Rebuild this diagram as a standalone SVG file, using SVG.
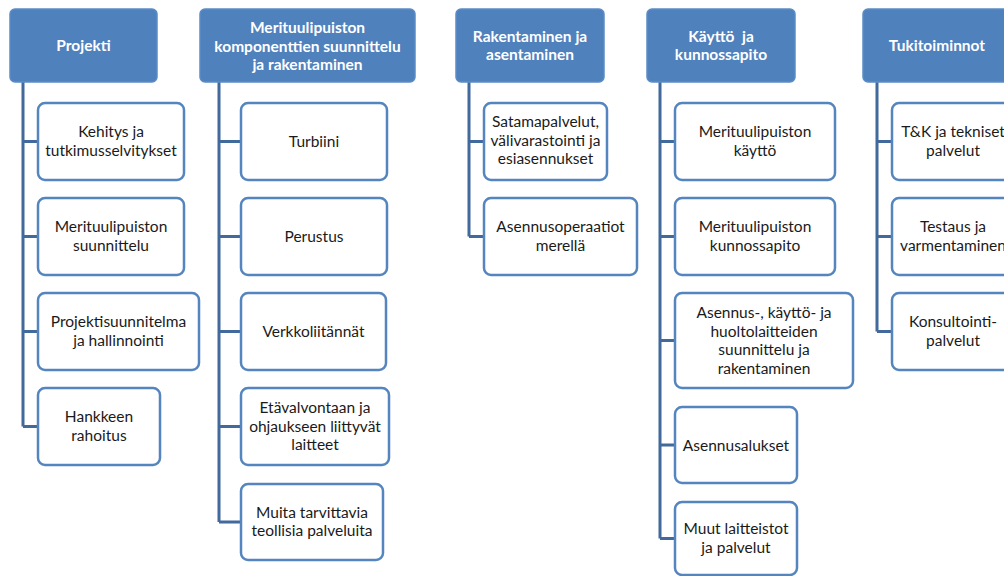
<svg xmlns="http://www.w3.org/2000/svg" width="1004" height="576" viewBox="0 0 1004 576">
<style>
.hd{fill:#4F81BD;stroke:#5B8CC6;stroke-width:1.5}
.bx{fill:#fff;stroke:#5585BF;stroke-width:2.5}
.ht{font-family:Lato,"Liberation Sans",sans-serif;font-size:15.5px;font-weight:bold;fill:#fff;text-anchor:middle}
.bt{font-family:Lato,"Liberation Sans",sans-serif;font-size:15.5px;fill:#1a1a1a;text-anchor:middle}
.cn{stroke:#41699B;stroke-width:3;fill:none}
</style>
<rect width="1004" height="576" fill="#fff"/>
<g id="connectors">
<path class="cn" d="M23 82V426.5M23 141.5H38M23 236.5H38M23 331.5H38M23 426.5H38"/>
<path class="cn" d="M219 82V522M219 141.5H241M219 236.5H241M219 331.5H241M219 426.5H241M219 522H241"/>
<path class="cn" d="M469 82V236.5M469 141.5H484M469 236.5H484"/>
<path class="cn" d="M660 82V538.5M660 141.5H675M660 236.5H675M660 340.5H675M660 445H675M660 538.5H675"/>
<path class="cn" d="M877 82V331.5M877 141.5H892M877 236.5H892M877 331.5H892"/>
</g>
<g id="h1"><rect class="hd" x="10" y="9" width="147" height="73" rx="5"/><text class="ht" x="83.5" y="51">Projekti</text></g>
<g id="h2"><rect class="hd" x="200" y="9" width="215" height="73" rx="5"/><text class="ht" x="307.5" y="33">Merituulipuiston</text><text class="ht" x="307.5" y="51.5">komponenttien suunnittelu</text><text class="ht" x="307.5" y="70">ja rakentaminen</text></g>
<g id="h3"><rect class="hd" x="456" y="9" width="148" height="73" rx="5"/><text class="ht" x="530" y="41.5">Rakentaminen ja</text><text class="ht" x="530" y="60">asentaminen</text></g>
<g id="h4"><rect class="hd" x="647" y="9" width="148" height="73" rx="5"/><text class="ht" x="721" y="41.5" xml:space="preserve">Käyttö  ja</text><text class="ht" x="721" y="60">kunnossapito</text></g>
<g id="h5"><rect class="hd" x="863" y="9" width="148" height="73" rx="5"/><text class="ht" x="937" y="51">Tukitoiminnot</text></g>

<g id="n1a"><rect class="bx" x="38" y="103" width="146" height="77" rx="7"/><text class="bt" x="111" y="137">Kehitys ja</text><text class="bt" x="111" y="155.5">tutkimusselvitykset</text></g>
<g id="n1b"><rect class="bx" x="38" y="198" width="146" height="77" rx="7"/><text class="bt" x="111" y="232">Merituulipuiston</text><text class="bt" x="111" y="250.5">suunnittelu</text></g>
<g id="n1c"><rect class="bx" x="38" y="293" width="161" height="77" rx="7"/><text class="bt" x="118.5" y="327">Projektisuunnitelma</text><text class="bt" x="118.5" y="345.5">ja hallinnointi</text></g>
<g id="n1d"><rect class="bx" x="38" y="388" width="122" height="77" rx="7"/><text class="bt" x="99" y="422">Hankkeen</text><text class="bt" x="99" y="440.5">rahoitus</text></g>

<g id="n2a"><rect class="bx" x="241" y="103" width="146" height="77" rx="7"/><text class="bt" x="314" y="147">Turbiini</text></g>
<g id="n2b"><rect class="bx" x="241" y="198" width="146" height="77" rx="7"/><text class="bt" x="314" y="242">Perustus</text></g>
<g id="n2c"><rect class="bx" x="241" y="293" width="145" height="77" rx="7"/><text class="bt" x="313.5" y="337">Verkkoliitännät</text></g>
<g id="n2d"><rect class="bx" x="241" y="388" width="148" height="77" rx="7"/><text class="bt" x="315" y="413">Etävalvontaan ja</text><text class="bt" x="315" y="431.5">ohjaukseen liittyvät</text><text class="bt" x="315" y="450">laitteet</text></g>
<g id="n2e"><rect class="bx" x="241" y="484" width="142" height="76" rx="7"/><text class="bt" x="312" y="517.5">Muita tarvittavia</text><text class="bt" x="312" y="536">teollisia palveluita</text></g>

<g id="n3a"><rect class="bx" x="484" y="103" width="123" height="77" rx="7"/><text class="bt" x="545.5" y="127">Satamapalvelut,</text><text class="bt" x="545.5" y="145.5">välivarastointi ja</text><text class="bt" x="545.5" y="164">esiasennukset</text></g>
<g id="n3b"><rect class="bx" x="484" y="198" width="153" height="77" rx="7"/><text class="bt" x="560.5" y="232">Asennusoperaatiot</text><text class="bt" x="560.5" y="250.5">merellä</text></g>

<g id="n4a"><rect class="bx" x="675" y="103" width="160" height="77" rx="7"/><text class="bt" x="755" y="137">Merituulipuiston</text><text class="bt" x="755" y="155.5">käyttö</text></g>
<g id="n4b"><rect class="bx" x="675" y="198" width="160" height="77" rx="7"/><text class="bt" x="755" y="232">Merituulipuiston</text><text class="bt" x="755" y="250.5">kunnossapito</text></g>
<g id="n4c"><rect class="bx" x="675" y="293" width="178" height="95" rx="7"/><text class="bt" x="764" y="318">Asennus-, käyttö- ja</text><text class="bt" x="764" y="336.5">huoltolaitteiden</text><text class="bt" x="764" y="355">suunnittelu ja</text><text class="bt" x="764" y="373.5">rakentaminen</text></g>
<g id="n4d"><rect class="bx" x="675" y="407" width="122" height="76" rx="7"/><text class="bt" x="736" y="450.5">Asennusalukset</text></g>
<g id="n4e"><rect class="bx" x="675" y="502" width="122" height="73" rx="7"/><text class="bt" x="736" y="534">Muut laitteistot</text><text class="bt" x="736" y="552.5">ja palvelut</text></g>

<g id="n5a"><rect class="bx" x="892" y="103" width="122" height="77" rx="7"/><text class="bt" x="953" y="137">T&amp;K ja tekniset</text><text class="bt" x="953" y="155.5">palvelut</text></g>
<g id="n5b"><rect class="bx" x="892" y="198" width="122" height="77" rx="7"/><text class="bt" x="953" y="232">Testaus ja</text><text class="bt" x="953" y="250.5">varmentaminen</text></g>
<g id="n5c"><rect class="bx" x="892" y="293" width="122" height="77" rx="7"/><text class="bt" x="953" y="327">Konsultointi-</text><text class="bt" x="953" y="345.5">palvelut</text></g>
</svg>
